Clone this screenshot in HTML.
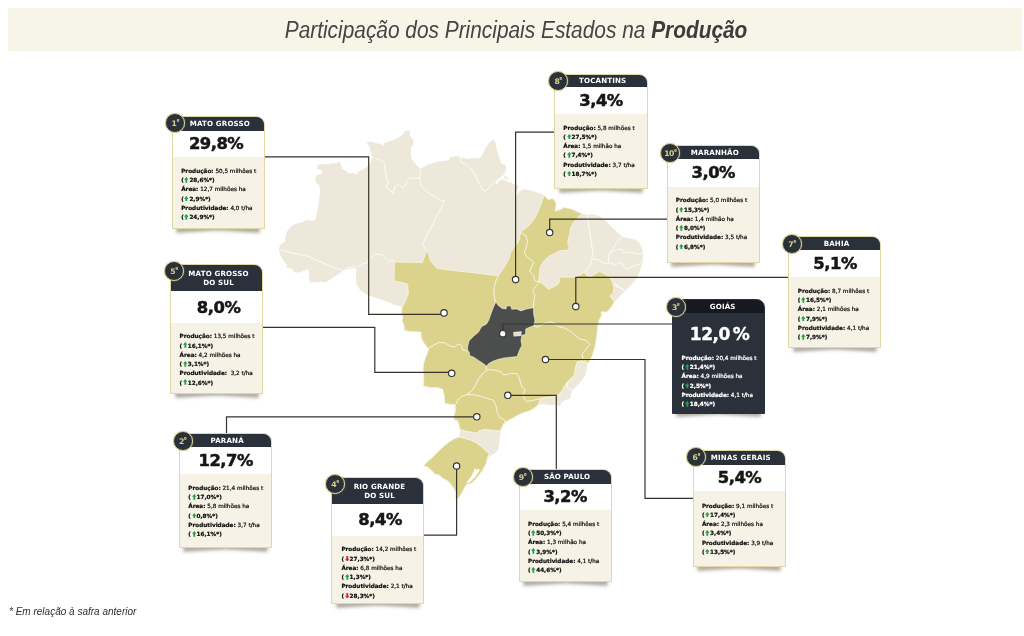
<!DOCTYPE html>
<html lang="pt-BR"><head><meta charset="utf-8"><title>Participação dos Principais Estados na Produção</title>
<style>
*{margin:0;padding:0;box-sizing:border-box}
html,body{width:1024px;height:636px;overflow:hidden;background:#fff}
body{position:relative;font-family:"DejaVu Sans","Liberation Sans",sans-serif;color:#1b1b1b}
.title{position:absolute;left:8px;top:8px;width:1014px;height:43px;background:#f7f4e8;text-align:center;
 font-family:"Liberation Sans",sans-serif;font-style:italic;font-size:23px;line-height:43px;color:#444;white-space:nowrap}
.title b{font-weight:700;color:#3c3c3c}
.title span{display:inline-block;position:relative;left:1px;top:.5px;transform:scaleX(.907)}
svg.map{position:absolute;left:0;top:0;width:1024px;height:636px}
.card{position:absolute;width:93.2px}
.card .bd{position:absolute;left:0;top:0;width:100%;height:100%;border:1.4px solid #e0d8a4;border-radius:0 8.5px 0 0;overflow:hidden;background:#f6f3e6}
.card .sh{position:absolute;bottom:2.2px;width:45%;height:7px;box-shadow:0 4.8px 3.4px rgba(70,60,35,.42)}
.card .sh.l{left:4.5px;transform:rotate(-3.2deg)}
.card .sh.r{right:4.5px;transform:rotate(3.2deg)}
.hd{margin:-1.15px -.8px 0 -1.4px;border-radius:0 7.5px 0 0;background:#2b313b;color:#fff;font-weight:700;font-size:7.1px;text-align:center;display:flex;align-items:center;justify-content:center;line-height:9.4px;padding-left:4px;padding-top:.5px;letter-spacing:.15px}
.hd span{display:block}
.hd.two{padding-top:1.7px}
.pw{background:#fff}
.pc{position:absolute;width:100px;height:20px;line-height:20px;text-align:center;font-weight:700;font-size:16.4px;letter-spacing:-.5px;color:#161616;-webkit-text-stroke:.5px #161616;white-space:nowrap}
.dt{position:absolute;font-size:5.7px;line-height:9.25px;white-space:nowrap;color:#111;letter-spacing:0;-webkit-text-stroke:.24px}
.dt b{font-weight:700;color:#111}
.ln{height:9.25px;white-space:pre}
.ar{width:4.6px;height:5.7px;display:inline-block;vertical-align:-.5px;margin:0 .3px 0 -1.3px}
.bg{position:absolute;left:-6.3px;top:-2.8px;width:20px;height:20px;border-radius:50%;background:#2b313b;border:1.9px solid #dbd190;color:#dccf88;font-weight:700;font-size:7.7px;text-align:center;line-height:15.8px;letter-spacing:-.6px;box-shadow:0 0 1.2px rgba(219,209,144,.9)}
.bg i{font-style:normal;font-size:5.4px;vertical-align:3px;margin-left:.2px}
.card.dark .bd{background:#2b313b;border-color:#2b313b}
.card.dark .hd{margin:-1.4px -1.4px 0 -1.4px}
.card.dark .hd{background:#161920}
.card.dark .hd span{position:relative;left:2.2px}
.card.dark .pw{background:#2b313b}
.card.dark .pc{color:#fff;font-size:17px;letter-spacing:-.5px;word-spacing:-2.5px;-webkit-text-stroke:.35px #fff}
.card.dark .dt{color:#fff}
.card.dark .dt b{color:#fff}
.card.dark .bg{background:#2b313b}
.foot{position:absolute;left:9px;top:605.1px;font-family:"Liberation Sans",sans-serif;font-style:italic;font-size:10.4px;color:#2f2f2f;line-height:14px;white-space:nowrap;transform-origin:0 50%;transform:scaleX(.963)}
</style></head><body>
<div class="title"><span>Participação dos Principais Estados na <b>Produção</b></span></div>
<svg class="map" viewBox="0 0 1024 636">
<path d="M366.3,142.2 371,141.4 375.7,143.3 380.4,143.8 382.8,146.1 384.4,143 391.4,140.6 397.7,138.3 402.4,135.1 404.8,131.2 407.2,130.4 410,131.2 409.5,135.1 411.1,137.5 413.4,140.6 413.4,143.8 411.1,147.7 410.6,154 411.9,158.7 414.2,162.7 417.4,165.8 420.5,168.5 422.9,167.4 427.6,164.7 433.9,162.7 438.6,161.6 444.9,161.1 449.6,160 449.3,157.2 454.3,156.5 458.2,155.9 460.6,157.2 466.9,159 473.2,157.9 479.4,158.4 482.6,154.8 485.7,147.7 489.7,142.2 493.3,139.5 495.2,141.4 496.7,149.3 499.1,157.2 501.5,163.4 505.4,165 506.2,168.9 504.6,172.9 504.4,175.1 504.8,173.7 507,177 508.8,180.3 513,184.1 518.7,185.2 518.1,188.5 516.4,192.4 515,196.8 517.1,194 519.6,191.3 524,189.1 529.5,190.2 535,191.8 540.5,193.5 544.1,195.5 548,199.4 552.7,198.6 555.9,202.6 555.9,207.3 555.1,211.2 560.6,209.6 563.7,207.6 570,208.5 576.3,211.2 581.8,213.6 587.2,214.5 595,214.5 601.3,217.3 607.6,222.8 613.9,229.1 618.6,233.8 623.3,236.9 629.6,238.5 635.9,240.1 639.8,243.2 642.2,248.7 642.9,255 642.2,262.9 640.6,269.2 638.2,275.4 634.3,281.7 629.6,286.4 624.9,291.2 620.2,295.9 623.7,292.6 617.4,298.9 614.3,302 612.7,305.1 609.6,309.1 606.4,312.2 603.3,311.4 600.9,312.2 601.7,315.4 599.4,319.3 597.8,325.6 597,333.4 596.2,339.7 594.7,347.6 592.3,355.4 589.2,361.7 587.6,363.3 586.9,367.3 585.3,375.1 582.2,379.9 577.4,385.4 572.7,390.1 571.2,393.2 570.4,398.7 564.9,400.3 560.9,402.7 560.2,405.8 555.4,405 549.2,405 542.9,404.2 538.2,404.7 535,407.4 530.3,410.5 525.6,412.1 519.3,414.4 513.8,417.6 509.1,419.9 505.1,422.3 503.6,423.9 501.2,428.6 500.6,431 499.8,438.9 499,445.1 498.2,449.9 494.3,453.8 490.4,456.1 487.2,458.5 488.4,456.5 487.1,459.8 486,463.7 484.2,467.5 482.1,471 480.3,473.3 478.4,475.9 476.3,478.4 473.9,480.9 471.7,482.9 469.3,483.8 467,484 465.3,486.2 463.7,489.5 462,492.8 459.8,496.1 457.6,498.9 455.4,500 455.8,493.1 454.2,489.2 451.1,484.4 447.2,480.5 442.4,478.2 439.3,475 435.4,474.2 431.4,470.3 427.5,467.2 423.6,465.6 428.3,460.9 433,456.9 437.7,451.9 443.2,446.7 448.7,442.3 453.4,439.2 458.9,437 460.5,429.4 459.9,429.4 459.2,425.4 457.6,420.7 454.4,419.9 453.7,417.6 455.2,411.3 455.2,405 449.7,404.2 445,403.4 444.2,395.6 442.7,389.3 437.2,387.4 430.9,387.7 423.3,386.1 423.8,376.7 423,368.9 423.8,362.6 426.1,356.3 428.5,350 428,348.6 426.4,346.2 423.3,342.3 421.4,337.6 420.9,332.1 410.7,331.6 404.4,330.5 403.7,324.2 402.1,321.1 402.9,317.2 401.6,312.4 402.1,306.9 396.6,305.4 390.3,303 382.4,299.9 374.6,297.5 366.7,294.4 360.4,290.4 356.5,284.1 355.7,276.3 356.5,270 356.7,269.2 354.3,267.9 348,269.2 342.5,271 338.6,273.9 333.9,277 329.2,280.2 325.2,282.5 321.3,281.7 315,282 310,282.5 309,277 309,270.7 307.2,269.2 300.9,272.3 294.6,272.6 291.4,268.4 285.9,267.6 287.5,265.2 285.1,262.9 282,258.2 279.6,253.4 278.5,249.5 279.6,246.4 281.2,244 285.1,241.7 285.1,237.7 286.7,232.2 289.1,228.3 293,225.1 297.7,223.6 302.4,222 307.2,220.1 310.3,220.4 315,220.4 315.9,217 317.5,209.2 319.1,199.7 320.2,190.3 319.1,185.6 315.9,181.7 315.1,177.7 316.7,174.9 322.2,173.8 322.2,170.6 317.5,169.1 317.5,165.1 321.4,163.9 327.7,164.4 332.4,163.3 336.4,163.6 339,161.2 341.1,164.4 341.9,168.3 345,170.6 349.7,173.8 352.9,173 356.8,174.6 357.6,172.2 360.7,170.6 365.4,168.3 368.6,164.7 371,161.9 372.6,157.2 370.2,150.1 369.4,146.1 366.3,142.2Z" fill="#ede8da"/>
<path d="M375.7,158.7 380.4,160 384.4,162.7 385.1,169.7 386.7,177.6 388.3,183.1 385.9,187 389.9,190.2 393.3,193 394.6,187 398.5,184.7 402.4,187.8 405.6,185.4 407.2,180.7 410.3,177.9 419.7,178.4 420.2,172.9 420.5,168.5" fill="none" stroke="#fff" stroke-width=".85" stroke-opacity=".95" stroke-linejoin="round"/>
<path d="M420.2,178.4 420.5,183.9 422.9,187.8 427.6,192.5 433.9,196.1 440.2,199.9 444.9,200.8 422.3,244.2 426.7,250.5" fill="none" stroke="#fff" stroke-width=".85" stroke-opacity=".95" stroke-linejoin="round"/>
<path d="M460.6,157.2 460.6,161.9 466.9,165 472.4,169.7 476.3,177.6 480.2,185.4 483.4,190.9 486.5,190.5 490.5,185.4 495.2,181.5 501.5,177.6" fill="none" stroke="#fff" stroke-width=".85" stroke-opacity=".95" stroke-linejoin="round"/>
<path d="M344.9,269.9 348,267.6 354.3,266.8 358.2,266.8 360.6,264.1 366.9,262.9 370,258.9 374.7,254.2 381,254.2 385.7,258.2 389.7,262.1 392,259.7 394.4,262.1" fill="none" stroke="#fff" stroke-width=".85" stroke-opacity=".95" stroke-linejoin="round"/>
<path d="M278.5,249.5 291.4,252.7 308.7,256.6 322.9,262.9 335.4,267.9 343.3,270.7" fill="none" stroke="#fff" stroke-width=".85" stroke-opacity=".95" stroke-linejoin="round"/>
<path d="M587.3,214.4 588.1,221.4 589.7,230.9 591.2,241.9 592.8,252.1 592,257.6 590.5,263.9 588.1,268.6 584.2,272.5" fill="none" stroke="#fff" stroke-width=".85" stroke-opacity=".95" stroke-linejoin="round"/>
<path d="M621.7,236.9 617,242.4 612.3,248.7 609.2,253.4 608.4,259.7 609.2,262.9" fill="none" stroke="#fff" stroke-width=".85" stroke-opacity=".95" stroke-linejoin="round"/>
<path d="M591.9,258.9 598.2,259.7 604.4,263.7 609.2,262.9 615.4,264.4 621.7,262.1 623.3,266 626.4,269.2 632.7,266 640.6,263.7" fill="none" stroke="#fff" stroke-width=".85" stroke-opacity=".95" stroke-linejoin="round"/>
<path d="M609.2,253.4 615.4,250.3 621.7,248.7 623.3,253.4 629.6,251.9 635.9,253.4 642.9,254.2" fill="none" stroke="#fff" stroke-width=".85" stroke-opacity=".95" stroke-linejoin="round"/>
<path d="M613.9,284.9 620.2,288 625.7,290.4" fill="none" stroke="#fff" stroke-width=".85" stroke-opacity=".95" stroke-linejoin="round"/>
<path d="M614.3,283.1 620.6,287.9 624.5,291.8" fill="none" stroke="#fff" stroke-width=".85" stroke-opacity=".95" stroke-linejoin="round"/>
<path d="M587.6,363.3 582.2,361 577.4,361.8 575.9,365.7 575.1,370.4 574.3,375.1 570.4,379.1 567.7,381.4" fill="none" stroke="#fff" stroke-width=".85" stroke-opacity=".95" stroke-linejoin="round"/>
<path d="M567.7,381.4 564.9,385.4 561.7,390.9 558.6,394.8 553.9,396.4 547.6,397.2 542.9,397.9 540.5,398.7" fill="none" stroke="#fff" stroke-width=".85" stroke-opacity=".95" stroke-linejoin="round"/>
<path d="M567.7,381.4 567.2,385.4 568,388.5 572.7,390.1" fill="none" stroke="#fff" stroke-width=".85" stroke-opacity=".95" stroke-linejoin="round"/>
<path d="M500.6,431 492.2,430.2 484.3,429.4 478.8,430.9 478,433.3 473.3,432.5 465.4,430.9 459.9,429.4" fill="none" stroke="#fff" stroke-width=".85" stroke-opacity=".95" stroke-linejoin="round"/>
<path d="M458.9,437 464.4,438.4 470.7,440.1 477,443.3 481.7,447 486.4,451.4 489.6,453.6 487.2,458.5" fill="none" stroke="#fff" stroke-width=".85" stroke-opacity=".95" stroke-linejoin="round"/>
<path d="M540.5,398.7 538.2,404.7" fill="none" stroke="#fff" stroke-width=".85" stroke-opacity=".95" stroke-linejoin="round"/>
<path d="M394.8,262 422.3,262.6 426.7,250.5 429.4,256 430.2,260.7 437.2,268.6 498.5,275.7 495.9,281 494.3,287.3 494,293.6 495.1,299.9 495.9,302.2 494.3,305.4 492.7,309.3 490.4,315.6 488.8,320.3 486.4,324.2 481.7,326.6 478.6,332.1 473.9,336 469.2,340.7 467.6,347 467.9,350.9 462.9,350.2 461.3,345.4 458.2,343.9 455,347 450.3,346.2 445.6,343.1 439.3,342.3 434.6,344.7 428,348.6 426.4,346.2 423.3,342.3 421.4,337.6 420.9,332.1 410.7,331.6 404.4,330.5 403.7,324.2 402.1,321.1 402.9,317.2 401.6,312.4 402.1,306.9 402.9,306.1 406,299.9 408.4,293.6 407.6,284.1 402.9,282.6 394.2,281 394.2,270 394.8,262Z" fill="#dbd28b" stroke="#f8f5e4" stroke-width=".8" stroke-linejoin="round"/>
<path d="M498.5,275.7 500.1,273.3 504,267.8 507.2,262.3 509.5,257.6 510.3,252.9 513.4,248.2 518.2,242.7 519.7,237.2 520.5,232.4 526,235.6 527.6,241.9 526,248.2 524.4,252.9 527.6,257.6 531.5,259.9 533.9,262.3 531.5,267 529.9,271.7 533.9,275.7 534.7,280.4 538.6,281.9 538.3,283.4 535.2,287.3 532.8,290.4 534.9,295.1 533.9,301.4 533.3,307.7 525.7,309.3 521,310.9 516.3,309 511.6,309.3 510.8,306.1 506.6,306.1 506.1,309 502.2,308.5 498.2,305.4 495.9,302.2 495.1,299.9 494,293.6 494.3,287.3 495.9,281 498.5,275.7Z" fill="#dbd28b" stroke="#f8f5e4" stroke-width=".8" stroke-linejoin="round"/>
<path d="M520.5,232.4 524.4,229.3 529.2,225.4 534.7,218.3 538.6,210.4 541.7,202.6 544.1,195.5 548,199.4 552.7,198.6 555.9,202.6 555.9,207.3 555.1,211.2 560.6,209.6 563.7,207.6 570,208.5 576.3,211.2 581.8,213.6 577.1,218.3 573.2,223 570.8,227.7 570,233.2 568.4,238.7 567.7,243.4 569.2,247.4 566.9,250.5 560.6,250.5 555.9,252.9 549.6,256 544.9,259.9 540.9,265.4 539.4,270.2 539.4,275.7 538.6,281.9 534.7,280.4 533.9,275.7 529.9,271.7 531.5,267 533.9,262.3 531.5,259.9 527.6,257.6 524.4,252.9 526,248.2 527.6,241.9 526,235.6 520.5,232.4Z" fill="#dbd28b" stroke="#f8f5e4" stroke-width=".8" stroke-linejoin="round"/>
<path d="M533.6,325.8 534.9,320.3 533.6,314 533.3,307.7 533.9,301.4 534.9,295.1 532.8,290.4 535.2,287.3 538.3,283.4 538.6,281.9 540.4,282.4 543.6,284.7 548.3,289.4 553,287.1 557.7,284.7 560.1,280 558.9,278.6 561.2,277 568.3,277.3 576.1,277 580.9,274.7 584,272.3 587.2,276.2 590.3,277.8 595,273.9 599.7,271.5 604.4,273.9 609.2,277 612.3,281.7 613.9,288 613.1,292.7 609.9,295.9 614.3,302 612.7,305.1 609.6,309.1 606.4,312.2 603.3,311.4 600.9,312.2 601.7,315.4 599.4,319.3 597.8,325.6 597,333.4 596.2,339.7 594.7,347.6 592.3,355.4 589.2,361.7 587.6,363.3 582.9,358.6 582.1,353.9 586,349.2 589.9,344.4 586,340.5 579.7,338.9 575,335 570.3,331.1 564,327.9 557.7,326.4 554.6,323.2 549.9,321.7 543.6,324 537.3,327.2 533.6,325.8Z" fill="#dbd28b" stroke="#f8f5e4" stroke-width=".8" stroke-linejoin="round"/>
<path d="M533.6,325.8 537.3,327.2 543.6,324 549.9,321.7 554.6,323.2 557.7,326.4 564,327.9 570.3,331.1 575,335 579.7,338.9 586,340.5 589.9,344.4 586,349.2 582.1,353.9 582.9,358.6 587.6,363.3 582.2,361 577.4,361.8 575.9,365.7 575.1,370.4 574.3,375.1 570.4,379.1 567.7,381.4 564.9,385.4 561.7,390.9 558.6,394.8 553.9,396.4 547.6,397.2 542.9,397.9 540.5,398.7 533.4,400.3 527.2,401.6 524,398.7 523.2,394 524.8,389.3 521.7,386.9 520.1,381.4 518.5,375.9 516.9,373.6 511.4,373.6 503.6,375.1 501.2,372 495.7,370.4 489.4,369.6 486.3,370.4 486.4,365.9 488.8,363.5 492.7,361.2 497.4,359.6 503.7,358 510,357.2 517.1,356.4 519.4,350.2 521.8,345.4 521,340.7 521.8,335.2 525.4,334.4 525.7,328.9 528.9,327.4 533.6,325.8Z" fill="#dbd28b" stroke="#f8f5e4" stroke-width=".8" stroke-linejoin="round"/>
<path d="M486.3,370.4 489.4,369.6 495.7,370.4 501.2,372 503.6,375.1 511.4,373.6 516.9,373.6 518.5,375.9 520.1,381.4 521.7,386.9 524.8,389.3 523.2,394 524,398.7 527.2,401.6 533.4,400.3 540.5,398.7 538.2,404.7 535,407.4 530.3,410.5 525.6,412.1 519.3,414.4 513.8,417.6 509.1,419.9 505.1,422.3 503.6,419.2 499.6,417.6 497.3,412.9 495.7,405 493.4,400.3 487.9,398.7 483.1,397.2 480,396.4 473.3,394.8 466.2,394.8 471.7,390.9 475.7,384.6 478.8,378.3 482.7,373.6 485.9,371.2 486.3,370.4Z" fill="#dbd28b" stroke="#f8f5e4" stroke-width=".8" stroke-linejoin="round"/>
<path d="M466.2,394.8 473.3,394.8 480,396.4 483.1,397.2 487.9,398.7 493.4,400.3 495.7,405 497.3,412.9 499.6,417.6 503.6,419.2 505.1,422.3 503.6,423.9 501.2,428.6 500.6,431 492.2,430.2 484.3,429.4 478.8,430.9 478,433.3 473.3,432.5 465.4,430.9 459.9,429.4 459.2,425.4 457.6,420.7 454.4,419.9 453.7,417.6 455.2,411.3 455.2,405 457.6,400.3 461.5,396.4 466.2,394.8Z" fill="#dbd28b" stroke="#f8f5e4" stroke-width=".8" stroke-linejoin="round"/>
<path d="M467.9,350.9 469.2,351.7 469.9,355.7 473.9,357.2 478.6,360.4 483.3,363.5 486.4,365.9 486.3,370.4 485.9,371.2 482.7,373.6 478.8,378.3 475.7,384.6 471.7,390.9 466.2,394.8 461.5,396.4 457.6,400.3 455.2,405 449.7,404.2 445,403.4 444.2,395.6 442.7,389.3 437.2,387.4 430.9,387.7 423.3,386.1 423.8,376.7 423,368.9 423.8,362.6 426.1,356.3 428.5,350 428,348.6 434.6,344.7 439.3,342.3 445.6,343.1 450.3,346.2 455,347 458.2,343.9 461.3,345.4 462.9,350.2 467.9,350.9Z" fill="#dbd28b" stroke="#f8f5e4" stroke-width=".8" stroke-linejoin="round"/>
<path d="M458.9,437 464.4,438.4 470.7,440.1 477,443.3 481.7,447 486.4,451.4 489.6,453.6 487.2,458.5 488.4,456.5 487.1,459.8 486,463.7 484.2,467.5 482.1,471 480.3,473.3 478.4,475.9 476.3,478.4 473.9,480.9 471.7,482.9 469.3,483.8 467,484 465.3,486.2 463.7,489.5 462,492.8 459.8,496.1 457.6,498.9 455.4,500 455.8,493.1 454.2,489.2 451.1,484.4 447.2,480.5 442.4,478.2 439.3,475 435.4,474.2 431.4,470.3 427.5,467.2 423.6,465.6 428.3,460.9 433,456.9 437.7,451.9 443.2,446.7 448.7,442.3 453.4,439.2 458.9,437Z" fill="#dbd28b" stroke="#f8f5e4" stroke-width=".8" stroke-linejoin="round"/>
<path d="M496.5,183.2 499.3,179.5 502,177.2 505.1,175.1" fill="none" stroke="#fff" stroke-width="1.9" stroke-linecap="round" stroke-linejoin="round"/>
<path d="M502.6,178.8 506.4,179.9 509.2,182.1" fill="none" stroke="#fff" stroke-width="1.9" stroke-linecap="round" stroke-linejoin="round"/>
<path d="M475,468.1 476.9,469.9 478.7,468.8 479.8,469.7 477.6,473.6 475.2,476.9 472.7,479.6 470.5,481.8 467.7,483.1 466.4,482.5 468.8,479.6 471.4,476.3 473,473 474.1,470.3Z" fill="#fff"/>
<path d="M495.9,302.2 498.2,305.4 502.2,308.5 506.1,309 506.6,306.1 510.8,306.1 511.6,309.3 516.3,309 521,310.9 525.7,309.3 533.3,307.7 533.6,314 534.9,320.3 533.6,325.8 528.9,327.4 525.7,328.9 525.4,334.4 521.8,335.2 521,340.7 521.8,345.4 519.4,350.2 517.1,356.4 510,357.2 503.7,358 497.4,359.6 492.7,361.2 488.8,363.5 486.4,365.9 483.3,363.5 478.6,360.4 473.9,357.2 469.9,355.7 469.2,351.7 467.9,350.9 467.6,347 469.2,340.7 473.9,336 478.6,332.1 481.7,326.6 486.4,324.2 488.8,320.3 490.4,315.6 492.7,309.3 494.3,305.4 495.9,302.2Z" fill="#4c4e4d" stroke="#e9e4c0" stroke-width=".5" stroke-linejoin="round"/>
<path d="M513.2,331.90000000000003 L521.8,331.3 L521.1999999999999,336.0 L513.6,336.4Z" fill="#e8e2cf"/>
<polyline points="265,156.9 368.7,156.9 368.7,314.4 444,314.4" fill="none" stroke="#35332c" stroke-width="1.2"/>
<polyline points="555,132.1 515.6,132.1 515.6,279.6" fill="none" stroke="#35332c" stroke-width="1.2"/>
<polyline points="667,219.1 549.7,219.1 549.7,232.5" fill="none" stroke="#35332c" stroke-width="1.2"/>
<polyline points="788.8,277.3 575.8,277.3 575.8,306.6" fill="none" stroke="#35332c" stroke-width="1.2"/>
<polyline points="672.5,324.0 502.8,324.0 502.8,333.7" fill="none" stroke="#35332c" stroke-width="1.2"/>
<polyline points="545.5,359.5 645,359.5 645,498.4 693.1,498.4" fill="none" stroke="#35332c" stroke-width="1.2"/>
<polyline points="263,327.4 374.8,327.4 374.8,372.3 451.7,372.3" fill="none" stroke="#35332c" stroke-width="1.2"/>
<polyline points="507.8,395.3 556.3,395.3 556.3,469.5" fill="none" stroke="#35332c" stroke-width="1.2"/>
<polyline points="476.8,416.8 226.5,416.8 226.5,433.5" fill="none" stroke="#35332c" stroke-width="1.2"/>
<polyline points="456.6,466.0 456.6,535.2 424,535.2" fill="none" stroke="#35332c" stroke-width="1.2"/>
<circle cx="444" cy="312.9" r="3.2" fill="#fff" stroke="#333" stroke-width="1.15"/>
<circle cx="515.6" cy="279.6" r="3.2" fill="#fff" stroke="#333" stroke-width="1.15"/>
<circle cx="549.7" cy="232.5" r="3.2" fill="#fff" stroke="#333" stroke-width="1.15"/>
<circle cx="575.8" cy="306.6" r="3.2" fill="#fff" stroke="#333" stroke-width="1.15"/>
<circle cx="502.8" cy="333.7" r="3.2" fill="#fff" stroke="#333" stroke-width="1.15"/>
<circle cx="545.5" cy="359.5" r="3.2" fill="#fff" stroke="#333" stroke-width="1.15"/>
<circle cx="451.7" cy="373.3" r="3.2" fill="#fff" stroke="#333" stroke-width="1.15"/>
<circle cx="507.8" cy="395.3" r="3.2" fill="#fff" stroke="#333" stroke-width="1.15"/>
<circle cx="476.8" cy="416.8" r="3.2" fill="#fff" stroke="#333" stroke-width="1.15"/>
<circle cx="456.6" cy="466.0" r="3.2" fill="#fff" stroke="#333" stroke-width="1.15"/>
</svg>
<div class="card" style="left:171.6px;top:116.1px;height:112.6px"><div class="sh l"></div><div class="sh r"></div><div class="bd"><div class="hd" style="height:14.9px"><span>MATO GROSSO</span></div><div class="pw" style="height:26.2px"></div><div class="pc" style="left:-6.5px;top:17.2px">29,8%</div><div class="dt" style="left:8.6px;top:49.9px"><div class="ln"><b>Produção:</b> 50,5 milhões t</div><div class="ln"><b>( <svg class="ar" viewBox="0 0 8 10"><path d="M4 0L8 5H5.6V10H2.4V5H0Z" fill="#17a644"/></svg>28,6%*)</b></div><div class="ln"><b>Área:</b> 12,7 milhões ha</div><div class="ln"><b>( <svg class="ar" viewBox="0 0 8 10"><path d="M4 0L8 5H5.6V10H2.4V5H0Z" fill="#17a644"/></svg>2,9%*)</b></div><div class="ln"><b>Produtividade:</b> 4,0 t/ha</div><div class="ln"><b>( <svg class="ar" viewBox="0 0 8 10"><path d="M4 0L8 5H5.6V10H2.4V5H0Z" fill="#17a644"/></svg>24,9%*)</b></div></div></div><div class="bg"><span>1<i>º</i></span></div></div><div class="card" style="left:170.2px;top:264.1px;height:129.7px"><div class="sh l"></div><div class="sh r"></div><div class="bd"><div class="hd two" style="height:27.4px"><span>MATO GROSSO<br>DO SUL</span></div><div class="pw" style="height:31.3px"></div><div class="pc" style="left:-2.6px;top:33.4px">8,0%</div><div class="dt" style="left:8.4px;top:67.3px"><div class="ln"><b>Produção:</b> 13,5 milhões t</div><div class="ln"><b>( <svg class="ar" viewBox="0 0 8 10"><path d="M4 0L8 5H5.6V10H2.4V5H0Z" fill="#17a644"/></svg>16,1%*)</b></div><div class="ln"><b>Área:</b> 4,2 milhões ha</div><div class="ln"><b>( <svg class="ar" viewBox="0 0 8 10"><path d="M4 0L8 5H5.6V10H2.4V5H0Z" fill="#17a644"/></svg>3,1%*)</b></div><div class="ln"><b>Produtividade:</b>  3,2 t/ha</div><div class="ln"><b>( <svg class="ar" viewBox="0 0 8 10"><path d="M4 0L8 5H5.6V10H2.4V5H0Z" fill="#17a644"/></svg>12,6%*)</b></div></div></div><div class="bg"><span>5<i>º</i></span></div></div><div class="card" style="left:178.9px;top:433.4px;height:114.4px"><div class="sh l"></div><div class="sh r"></div><div class="bd"><div class="hd" style="height:13.7px"><span>PARANÁ</span></div><div class="pw" style="height:26.9px"></div><div class="pc" style="left:-4.2px;top:16.9px">12,7%</div><div class="dt" style="left:8.4px;top:49.6px"><div class="ln"><b>Produção:</b> 21,4 milhões t</div><div class="ln"><b>( <svg class="ar" viewBox="0 0 8 10"><path d="M4 0L8 5H5.6V10H2.4V5H0Z" fill="#17a644"/></svg>17,0%*)</b></div><div class="ln"><b>Área:</b> 5,8 milhões ha</div><div class="ln"><b>( <svg class="ar" viewBox="0 0 8 10"><path d="M4 0L8 5H5.6V10H2.4V5H0Z" fill="#17a644"/></svg>0,8%*)</b></div><div class="ln"><b>Produtividade:</b> 3,7 t/ha</div><div class="ln"><b>( <svg class="ar" viewBox="0 0 8 10"><path d="M4 0L8 5H5.6V10H2.4V5H0Z" fill="#17a644"/></svg>16,1%*)</b></div></div></div><div class="bg"><span>2<i>º</i></span></div></div><div class="card" style="left:331.2px;top:476.9px;height:127.4px"><div class="sh l"></div><div class="sh r"></div><div class="bd"><div class="hd two" style="height:26.8px"><span>RIO GRANDE<br>DO SUL</span></div><div class="pw" style="height:32.4px"></div><div class="pc" style="left:-2.1px;top:32.5px">8,4%</div><div class="dt" style="left:9.2px;top:67.6px"><div class="ln"><b>Produção:</b> 14,2 milhões t</div><div class="ln"><b>( <svg class="ar" viewBox="0 0 8 10"><path d="M4 10L8 5H5.6V0H2.4V5H0Z" fill="#e0202a"/></svg>27,3%*)</b></div><div class="ln"><b>Área:</b> 6,8 milhões ha</div><div class="ln"><b>( <svg class="ar" viewBox="0 0 8 10"><path d="M4 0L8 5H5.6V10H2.4V5H0Z" fill="#17a644"/></svg>1,3%*)</b></div><div class="ln"><b>Produtividade:</b> 2,1 t/ha</div><div class="ln"><b>( <svg class="ar" viewBox="0 0 8 10"><path d="M4 10L8 5H5.6V0H2.4V5H0Z" fill="#e0202a"/></svg>28,3%*)</b></div></div></div><div class="bg"><span>4<i>º</i></span></div></div><div class="card" style="left:518.8px;top:469.4px;height:112.5px"><div class="sh l"></div><div class="sh r"></div><div class="bd"><div class="hd" style="height:14.4px"><span>SÃO PAULO</span></div><div class="pw" style="height:26.4px"></div><div class="pc" style="left:-4.6px;top:16.2px">3,2%</div><div class="dt" style="left:8.2px;top:49.4px"><div class="ln"><b>Produção:</b> 5,4 milhões t</div><div class="ln"><b>( <svg class="ar" viewBox="0 0 8 10"><path d="M4 0L8 5H5.6V10H2.4V5H0Z" fill="#17a644"/></svg>50,3%*)</b></div><div class="ln"><b>Área:</b> 1,3 milhão ha</div><div class="ln"><b>( <svg class="ar" viewBox="0 0 8 10"><path d="M4 0L8 5H5.6V10H2.4V5H0Z" fill="#17a644"/></svg>3,9%*)</b></div><div class="ln"><b>Produtividade:</b> 4,1 t/ha</div><div class="ln"><b>( <svg class="ar" viewBox="0 0 8 10"><path d="M4 0L8 5H5.6V10H2.4V5H0Z" fill="#17a644"/></svg>44,6%*)</b></div></div></div><div class="bg"><span>9<i>º</i></span></div></div><div class="card" style="left:692.5px;top:450.1px;height:117.3px"><div class="sh l"></div><div class="sh r"></div><div class="bd"><div class="hd" style="height:14.6px"><span>MINAS GERAIS</span></div><div class="pw" style="height:26.3px"></div><div class="pc" style="left:-4.0px;top:16.9px">5,4%</div><div class="dt" style="left:8.4px;top:50.6px"><div class="ln"><b>Produção:</b> 9,1 milhões t</div><div class="ln"><b>( <svg class="ar" viewBox="0 0 8 10"><path d="M4 0L8 5H5.6V10H2.4V5H0Z" fill="#17a644"/></svg>17,4%*)</b></div><div class="ln"><b>Área:</b> 2,3 milhões ha</div><div class="ln"><b>( <svg class="ar" viewBox="0 0 8 10"><path d="M4 0L8 5H5.6V10H2.4V5H0Z" fill="#17a644"/></svg>3,4%*)</b></div><div class="ln"><b>Produtividade:</b> 3,9 t/ha</div><div class="ln"><b>( <svg class="ar" viewBox="0 0 8 10"><path d="M4 0L8 5H5.6V10H2.4V5H0Z" fill="#17a644"/></svg>13,5%*)</b></div></div></div><div class="bg"><span>6<i>º</i></span></div></div><div class="card dark" style="left:671.9px;top:299.4px;height:114.2px"><div class="sh l"></div><div class="sh r"></div><div class="bd"><div class="hd" style="height:14.4px"><span>GOIÁS</span></div><div class="pw" style="height:32.4px"></div><div class="pc" style="left:-3.4px;top:24.0px">12,0 %</div><div class="dt" style="left:8.7px;top:53.6px"><div class="ln"><b>Produção:</b> 20,4 milhões t</div><div class="ln"><b>( <svg class="ar" viewBox="0 0 8 10"><path d="M4 0L8 5H5.6V10H2.4V5H0Z" fill="#17a644"/></svg>21,4%*)</b></div><div class="ln"><b>Área:</b> 4,9 milhões ha</div><div class="ln"><b>( <svg class="ar" viewBox="0 0 8 10"><path d="M4 0L8 5H5.6V10H2.4V5H0Z" fill="#17a644"/></svg>2,5%*)</b></div><div class="ln"><b>Produtividade:</b> 4,1 t/ha</div><div class="ln"><b>( <svg class="ar" viewBox="0 0 8 10"><path d="M4 0L8 5H5.6V10H2.4V5H0Z" fill="#17a644"/></svg>18,4%*)</b></div></div></div><div class="bg"><span>3<i>º</i></span></div></div><div class="card" style="left:788.2px;top:236.3px;height:112.1px"><div class="sh l"></div><div class="sh r"></div><div class="bd"><div class="hd" style="height:13.8px"><span>BAHIA</span></div><div class="pw" style="height:26.7px"></div><div class="pc" style="left:-4.1px;top:16.5px">5,1%</div><div class="dt" style="left:8.6px;top:49.7px"><div class="ln"><b>Produção:</b> 8,7 milhões t</div><div class="ln"><b>( <svg class="ar" viewBox="0 0 8 10"><path d="M4 0L8 5H5.6V10H2.4V5H0Z" fill="#17a644"/></svg>16,5%*)</b></div><div class="ln"><b>Área:</b> 2,1 milhões ha</div><div class="ln"><b>( <svg class="ar" viewBox="0 0 8 10"><path d="M4 0L8 5H5.6V10H2.4V5H0Z" fill="#17a644"/></svg>7,9%*)</b></div><div class="ln"><b>Produtividade:</b> 4,1 t/ha</div><div class="ln"><b>( <svg class="ar" viewBox="0 0 8 10"><path d="M4 0L8 5H5.6V10H2.4V5H0Z" fill="#17a644"/></svg>7,9%*)</b></div></div></div><div class="bg"><span>7<i>º</i></span></div></div><div class="card" style="left:666.6px;top:145.4px;height:118.0px"><div class="sh l"></div><div class="sh r"></div><div class="bd"><div class="hd" style="height:14.1px"><span>MARANHÃO</span></div><div class="pw" style="height:27.4px"></div><div class="pc" style="left:-4.3px;top:16.2px">3,0%</div><div class="dt" style="left:8.2px;top:50.1px"><div class="ln"><b>Produção:</b> 5,0 milhões t</div><div class="ln"><b>( <svg class="ar" viewBox="0 0 8 10"><path d="M4 0L8 5H5.6V10H2.4V5H0Z" fill="#17a644"/></svg>15,3%*)</b></div><div class="ln"><b>Área:</b> 1,4 milhão ha</div><div class="ln"><b>( <svg class="ar" viewBox="0 0 8 10"><path d="M4 0L8 5H5.6V10H2.4V5H0Z" fill="#17a644"/></svg>8,0%*)</b></div><div class="ln"><b>Produtividade:</b> 3,5 t/ha</div><div class="ln"><b>( <svg class="ar" viewBox="0 0 8 10"><path d="M4 0L8 5H5.6V10H2.4V5H0Z" fill="#17a644"/></svg>6,8%*)</b></div></div></div><div class="bg"><span>10<i>º</i></span></div></div><div class="card" style="left:554.4px;top:73.5px;height:115.3px"><div class="sh l"></div><div class="sh r"></div><div class="bd"><div class="hd" style="height:14.1px"><span>TOCANTINS</span></div><div class="pw" style="height:26.8px"></div><div class="pc" style="left:-4.4px;top:16.9px">3,4%</div><div class="dt" style="left:7.9px;top:49.2px"><div class="ln"><b>Produção:</b> 5,8 milhões t</div><div class="ln"><b>( <svg class="ar" viewBox="0 0 8 10"><path d="M4 0L8 5H5.6V10H2.4V5H0Z" fill="#17a644"/></svg>27,5%*)</b></div><div class="ln"><b>Área:</b> 1,5 milhão ha</div><div class="ln"><b>( <svg class="ar" viewBox="0 0 8 10"><path d="M4 0L8 5H5.6V10H2.4V5H0Z" fill="#17a644"/></svg>7,4%*)</b></div><div class="ln"><b>Produtividade:</b> 3,7 t/ha</div><div class="ln"><b>( <svg class="ar" viewBox="0 0 8 10"><path d="M4 0L8 5H5.6V10H2.4V5H0Z" fill="#17a644"/></svg>18,7%*)</b></div></div></div><div class="bg"><span>8<i>º</i></span></div></div>
<div class="foot">* Em relação à safra anterior</div>
</body></html>
